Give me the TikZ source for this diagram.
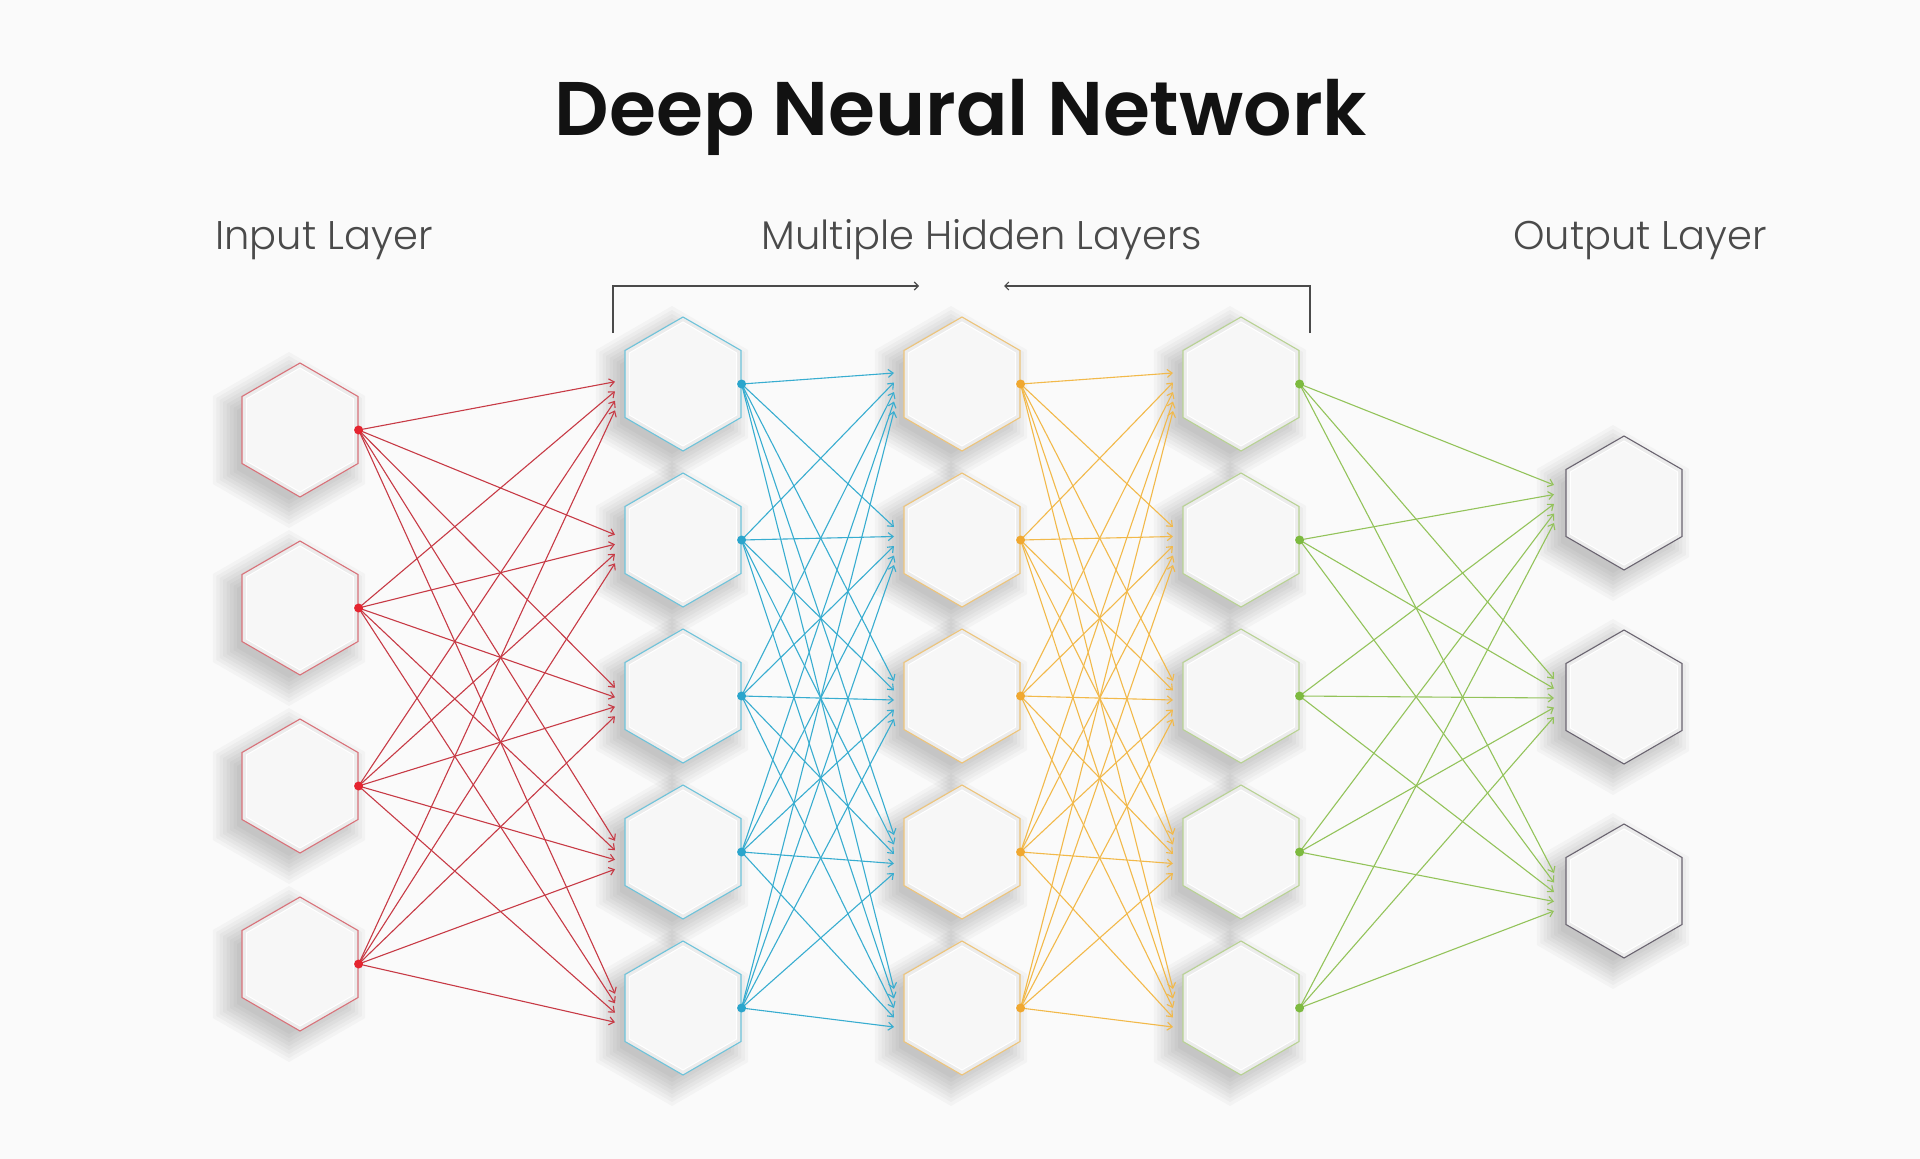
\documentclass[tikz,border=0pt]{standalone}
\usepackage{fontspec}
\setmainfont{Poppins}
\newfontfamily\titlefont{Poppins SemiBold}
\newfontfamily\labelfont{Poppins Light}
\usetikzlibrary{shapes.geometric,calc,arrows.meta}
\definecolor{bgcol}{HTML}{FAFAFA}
\definecolor{hexfill}{HTML}{ECECEC}
\definecolor{hexlight}{HTML}{F7F7F7}
\definecolor{labelgray}{HTML}{4A4A4A}
\definecolor{inedge}{HTML}{D9727A}
\definecolor{inline}{HTML}{C73A45}
\definecolor{indot}{HTML}{E52530}
\definecolor{aedge}{HTML}{6EC3DA}
\definecolor{aline}{HTML}{38ADD0}
\definecolor{adot}{HTML}{2AA5CC}
\definecolor{bedge}{HTML}{EDC47A}
\definecolor{bline}{HTML}{F2B94A}
\definecolor{bdot}{HTML}{F0A830}
\definecolor{cedge}{HTML}{B8D293}
\definecolor{cline}{HTML}{93C35A}
\definecolor{cdot}{HTML}{7DBA3F}
\definecolor{outedge}{HTML}{6A6470}
\tikzset{
  hexcell/.style={regular polygon, regular polygon sides=6, shape border rotate=30,
    minimum size=134pt, inner sep=0pt, fill=hexfill, line width=1.1pt},
  hexface/.style={regular polygon, regular polygon sides=6, shape border rotate=30,
    minimum size=124pt, inner sep=0pt, fill=hexlight, draw=white, line width=1pt},
  hexshade/.style={fill=black, opacity=0.028},
  link/.style={line width=1.1pt, -{Straight Barb[length=5pt,width=8pt]}},
  bracket/.style={line width=1.1pt, draw=labelgray, -{Straight Barb[length=4pt,width=8pt]}},
  layerlabel/.style={font=\labelfont\fontsize{40}{48}\selectfont, text=labelgray, anchor=base},
}
\newcommand{\hexshadow}[2]{%
  \foreach \r in {88,84,...,60}
    \fill[hexshade] (#1-11,#2+10) +(90:\r) -- +(150:\r) -- +(210:\r) -- +(270:\r) -- +(330:\r) -- +(30:\r) -- cycle;
}
\begin{document}
\begin{tikzpicture}[x=1pt,y=-1pt]
\fill[bgcol] (0,0) rectangle (1920,1159);
\useasboundingbox (0,0) rectangle (1920,1159);

\node[anchor=base, font=\titlefont\fontsize{76}{90}\selectfont, text=black!93] (title) at (961,135) {Deep Neural Network};
\node[layerlabel] (inlabel) at (324,249) {Input Layer};
\node[layerlabel] (hidlabel) at (982,249) {Multiple Hidden Layers};
\node[layerlabel] (outlabel) at (1640,249) {Output Layer};

\coordinate (brl) at (613,333); \coordinate (brlt) at (613,286); \coordinate (brle) at (919,286);
\coordinate (brr) at (1310,333); \coordinate (brrt) at (1310,286); \coordinate (brre) at (1004,286);
\draw[bracket] (brl) -- (brlt) -- (brle);
\draw[bracket] (brr) -- (brrt) -- (brre);

\foreach \i in {1,...,4} {
  \pgfmathsetmacro\y{430+178*(\i-1)}
  \hexshadow{300}{\y}
  \node[hexcell, draw=inedge] (in\i) at (300,\y) {};
  \node[hexface] at (in\i) {};
}
\foreach \j in {1,...,5} {
  \pgfmathsetmacro\y{384+156*(\j-1)}
  \hexshadow{683}{\y}
  \hexshadow{962}{\y}
  \hexshadow{1241}{\y}
  \node[hexcell, draw=aedge] (ha\j) at (683,\y) {};
  \node[hexface] at (ha\j) {};
  \node[hexcell, draw=bedge] (hb\j) at (962,\y) {};
  \node[hexface] at (hb\j) {};
  \node[hexcell, draw=cedge] (hc\j) at (1241,\y) {};
  \node[hexface] at (hc\j) {};
}
\foreach \k in {1,...,3} {
  \pgfmathsetmacro\y{503+194*(\k-1)}
  \hexshadow{1624}{\y}
  \node[hexcell, draw=outedge] (out\k) at (1624,\y) {};
  \node[hexface] at (out\k) {};
}

\foreach \a in {1,...,4} \foreach \b in {1,...,5} {
  \coordinate (tipa-\b-\a) at ($(ha\b)+(-68,{(\a-2.5)*9.5+12-3*(\b-1)})$);
  \draw[link, draw=inline] (in\a.0) -- (tipa-\b-\a);
}
\foreach \a in {1,...,5} \foreach \b in {1,...,5} {
  \coordinate (tipb-\b-\a) at ($(hb\b)+(-68,{(\a-3)*9.5+8-2*(\b-1)})$);
  \draw[link, draw=aline] (ha\a.0) -- (tipb-\b-\a);
  \coordinate (tipc-\b-\a) at ($(hc\b)+(-68,{(\a-3)*9.5+8-2*(\b-1)})$);
  \draw[link, draw=bline] (hb\a.0) -- (tipc-\b-\a);
}
\foreach \a in {1,...,5} \foreach \b in {1,...,3} {
  \coordinate (tipd-\b-\a) at ($(out\b)+(-70,{(\a-3)*9.5+1})$);
  \draw[link, draw=cline] (hc\a.0) -- (tipd-\b-\a);
}

\foreach \a in {1,...,4} \fill[indot] (in\a.0) circle (4.5);
\foreach \a in {1,...,5} {
  \fill[adot] (ha\a.0) circle (4.5);
  \fill[bdot] (hb\a.0) circle (4.5);
  \fill[cdot] (hc\a.0) circle (4.5);
}
\end{tikzpicture}
\end{document}
